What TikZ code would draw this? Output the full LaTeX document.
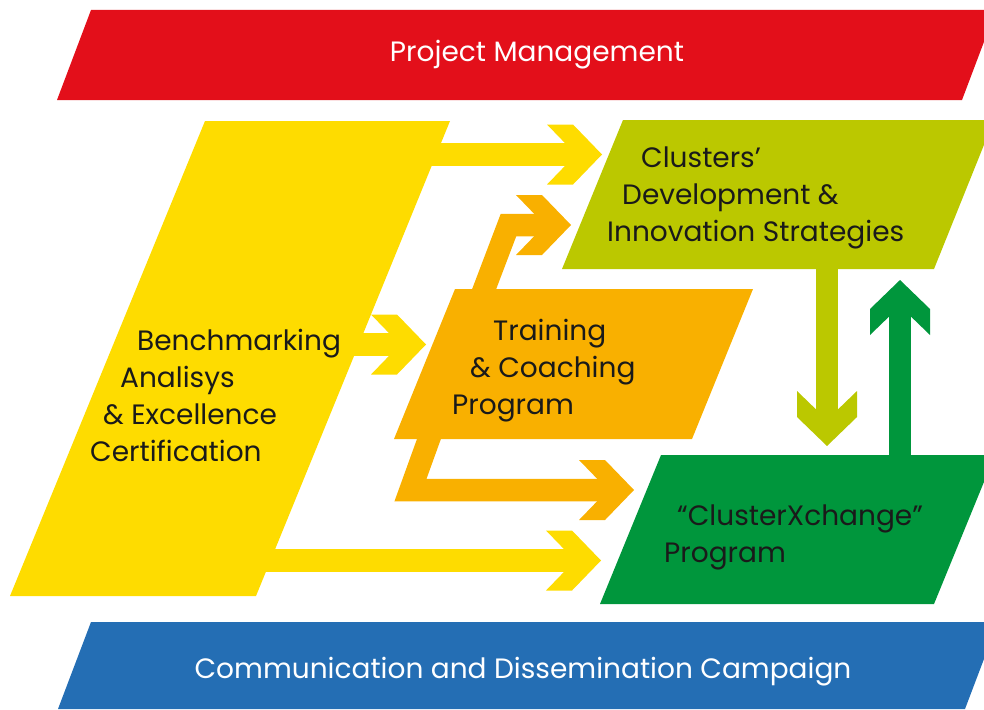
\documentclass[tikz,border=0pt]{standalone}
\usepackage{fontspec}
\setmainfont{Poppins}

\definecolor{pmRed}{RGB}{227,15,26}
\definecolor{bmYellow}{RGB}{254,220,0}
\definecolor{tcOrange}{RGB}{249,176,0}
\definecolor{cdLime}{RGB}{187,200,0}
\definecolor{cxGreen}{RGB}{0,150,60}
\definecolor{ccBlue}{RGB}{36,110,180}
\definecolor{txtDark}{RGB}{26,26,26}

\tikzset{
  chevron/.pic={\fill (0,0) -- (-29,-30) -- (-55,-30) -- (-26,0) -- (-55,30) -- (-29,30) -- cycle;},
  shaft/.style={line width=22.5pt},
  boxtext/.style={inner sep=0pt, anchor=north west, align=left, text=txtDark,
    font=\fontsize{28}{37}\selectfont},
  bannertext/.style={inner sep=0pt, anchor=base, text=white,
    font=\fontsize{28}{37}\selectfont}
}

\begin{document}
\begin{tikzpicture}[x=1pt,y=-1pt]
  \useasboundingbox (0,0) rectangle (984,709);
  \clip (0,0) rectangle (984,709);

  % banners and boxes
  \fill[pmRed] (91,10) -- (996,10) -- (962,100) -- (57,100) -- cycle;
  \fill[ccBlue] (91,622) -- (998,622) -- (965,709) -- (58,709) -- cycle;
  \fill[bmYellow] (205,121) -- (450,121) -- (256,596) -- (10,596) -- cycle;
  \fill[tcOrange] (455,289) -- (753,289) -- (692,439) -- (394,439) -- cycle;
  \fill[cdLime] (623,120) -- (994,120) -- (934,269) -- (562,269) -- cycle;
  \fill[cxGreen] (661,455) -- (995,455) -- (934,604) -- (600,604) -- cycle;

  % arrow ends
  \path (400,154.5) coordinate (bmTailA) (602,154.5) coordinate (bmTipA)
        (330,344.5) coordinate (bmTailB) (426,344.5) coordinate (bmTipB)
        (240,560.5) coordinate (bmTailC) (601,560.5) coordinate (bmTipC)
        (480,300) coordinate (tcTailA) (508.5,225) coordinate (tcBendA) (571,225) coordinate (tcTipA)
        (434,425) coordinate (tcTailB) (410.5,490) coordinate (tcBendB) (634,490) coordinate (tcTipB)
        (827,260) coordinate (cdTail) (827,446) coordinate (cdTip)
        (900,465) coordinate (cxTail) (900,280) coordinate (cxTip);

  \draw[shaft, bmYellow] (bmTailA) -- ([xshift=-20pt]bmTipA);
  \draw[shaft, bmYellow] (bmTailB) -- ([xshift=-20pt]bmTipB);
  \draw[shaft, bmYellow] (bmTailC) -- ([xshift=-20pt]bmTipC);
  \draw[shaft, tcOrange] (tcTailA) -- (tcBendA) -- ([xshift=-20pt]tcTipA);
  \draw[shaft, tcOrange] (tcTailB) -- (tcBendB) -- ([xshift=-20pt]tcTipB);
  \draw[shaft, cdLime] (cdTail) -- ([yshift=20pt]cdTip);
  \draw[shaft, cxGreen] (cxTail) -- ([yshift=-20pt]cxTip);

  \pic[bmYellow] at (bmTipA) {chevron};
  \pic[bmYellow] at (bmTipB) {chevron};
  \pic[bmYellow] at (bmTipC) {chevron};
  \pic[tcOrange] at (tcTipA) {chevron};
  \pic[tcOrange] at (tcTipB) {chevron};
  \pic[cdLime, rotate=-90] at (cdTip) {chevron};
  \pic[cxGreen, rotate=90] at (cxTip) {chevron};

  % texts
  \node[bannertext] (pm) at (537,62) {Project Management};
  \node[bannertext] (campaign) at (523,678) {Communication and Dissemination Campaign};
  \node[boxtext] (bench) at (90,328.5) {\hspace*{47pt}Benchmarking\\\hspace*{30pt}Analisys\\\hspace*{13pt}\& Excellence\\Certification};
  \node[boxtext] (training) at (452,318.5) {\hspace*{41pt}Training\\\hspace*{18pt}\& Coaching\\Program};
  \node[boxtext] (strategies) at (607,146.5) {\hspace*{34pt}Clusters’\\\hspace*{15pt}Development \&\\Innovation Strategies};
  \node[boxtext] (exchange) at (664,504.5) {\hspace*{13pt}“ClusterXchange”\\Program};
\end{tikzpicture}
\end{document}
